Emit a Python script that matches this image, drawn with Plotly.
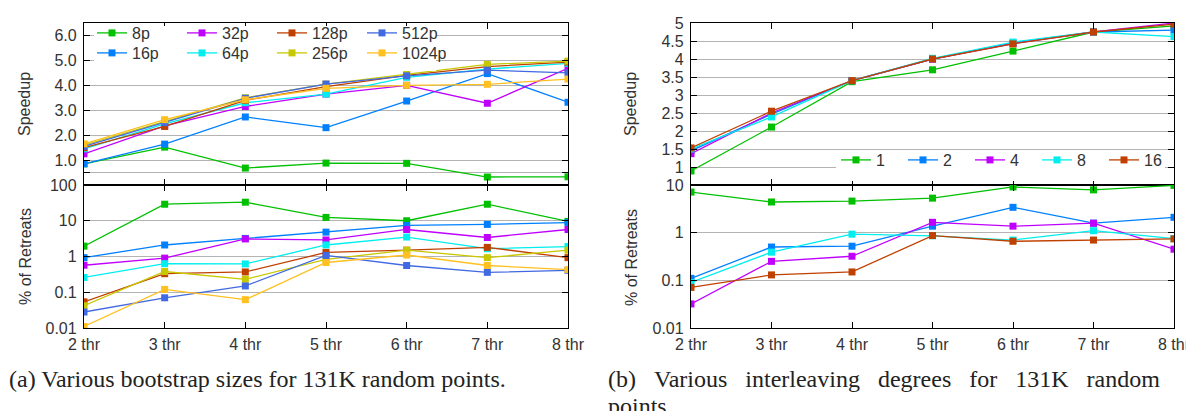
import plotly.graph_objects as go

categories = ['2 thr', '3 thr', '4 thr', '5 thr', '6 thr', '7 thr', '8 thr']

# (a) bootstrap sizes
a_names = ['8p', '16p', '32p', '64p', '128p', '256p', '512p', '1024p']
a_speed_8p = [0.85, 1.52, 0.68, 0.88, 0.87, 0.32, 0.33]
a_speed_16p = [0.85, 1.64, 2.73, 2.30, 3.37, 4.47, 3.32]
a_speed_32p = [1.25, 2.37, 3.15, 3.65, 4.00, 3.28, 4.68]
a_speed_64p = [1.45, 2.45, 3.30, 3.65, 4.32, 4.65, 4.88]
a_speed_128p = [1.50, 2.35, 3.40, 3.95, 4.40, 4.75, 4.93]
a_speed_256p = [1.60, 2.55, 3.50, 4.05, 4.45, 4.84, 4.97]
a_speed_512p = [1.55, 2.50, 3.48, 4.05, 4.38, 4.61, 4.50]
a_speed_1024p = [1.65, 2.62, 3.42, 3.88, 4.00, 4.04, 4.25]

a_ret_8p = [1.95, 29, 33, 12.4, 10, 29, 9.6]
a_ret_16p = [0.93, 2.1, 3.2, 4.8, 7.4, 7.9, 8.9]
a_ret_32p = [0.57, 0.9, 3.1, 2.9, 5.7, 3.4, 5.7]
a_ret_64p = [0.26, 0.63, 0.62, 2.1, 3.5, 1.65, 1.9]
a_ret_128p = [0.054, 0.33, 0.37, 1.3, 1.5, 1.8, 0.93]
a_ret_256p = [0.042, 0.38, 0.23, 0.83, 1.5, 0.93, 1.5]
a_ret_512p = [0.028, 0.07, 0.15, 1.07, 0.56, 0.36, 0.41]
a_ret_1024p = [0.011, 0.12, 0.062, 0.68, 1.1, 0.56, 0.43]

# (b) interleaving degrees
b_names = ['1', '2', '4', '8', '16']
b_speed_1 = [0.89, 2.11, 3.37, 3.70, 4.22, 4.75, 4.92]
b_speed_2 = [1.45, 2.47, 3.40, 4.00, 4.45, 4.75, 4.80]
b_speed_4 = [1.37, 2.50, 3.40, 4.00, 4.43, 4.75, 5.00]
b_speed_8 = [1.50, 2.39, 3.40, 4.02, 4.47, 4.75, 4.62]
b_speed_16 = [1.53, 2.55, 3.40, 4.00, 4.42, 4.75, 4.97]

b_ret_1 = [7.1, 4.4, 4.6, 5.3, 9.1, 7.9, 9.8]
b_ret_2 = [0.11, 0.5, 0.52, 1.37, 3.4, 1.58, 2.1]
b_ret_4 = [0.032, 0.25, 0.32, 1.65, 1.37, 1.58, 0.45]
b_ret_8 = [0.09, 0.39, 0.93, 0.86, 0.70, 1.1, 0.75]
b_ret_16 = [0.071, 0.13, 0.15, 0.87, 0.66, 0.70, 0.74]

a_speed = [a_speed_8p, a_speed_16p, a_speed_32p, a_speed_64p,
           a_speed_128p, a_speed_256p, a_speed_512p, a_speed_1024p]
a_ret = [a_ret_8p, a_ret_16p, a_ret_32p, a_ret_64p,
         a_ret_128p, a_ret_256p, a_ret_512p, a_ret_1024p]
b_speed = [b_speed_1, b_speed_2, b_speed_4, b_speed_8, b_speed_16]
b_ret = [b_ret_1, b_ret_2, b_ret_4, b_ret_8, b_ret_16]

a_colors = ['#00c000', '#0080ff', '#c000ff', '#00eeee',
            '#c04000', '#c8c800', '#4169e1', '#ffc020']
b_colors = ['#00c000', '#0080ff', '#c000ff', '#00eeee', '#c04000']

W, H = 1194, 411
def px(x):
    return x / W
def py(y):
    return 1 - y / H

fig = go.Figure()

for i, name in enumerate(a_names):
    leg = 'legend' if i % 2 == 0 else 'legend3'
    fig.add_trace(go.Scatter(x=categories, y=a_speed[i], name=name,
                             mode='lines+markers', xaxis='x', yaxis='y',
                             line=dict(color=a_colors[i], width=1.3),
                             marker=dict(symbol='square', size=7, color=a_colors[i]),
                             legend=leg, legendrank=i))
    fig.add_trace(go.Scatter(x=categories, y=a_ret[i], name=name,
                             mode='lines+markers', xaxis='x2', yaxis='y2',
                             line=dict(color=a_colors[i], width=1.3),
                             marker=dict(symbol='square', size=7, color=a_colors[i]),
                             showlegend=False))
for i, name in enumerate(b_names):
    fig.add_trace(go.Scatter(x=categories, y=b_speed[i], name=name,
                             mode='lines+markers', xaxis='x3', yaxis='y3',
                             line=dict(color=b_colors[i], width=1.3),
                             marker=dict(symbol='square', size=7, color=b_colors[i]),
                             legend='legend2'))
    fig.add_trace(go.Scatter(x=categories, y=b_ret[i], name=name,
                             mode='lines+markers', xaxis='x4', yaxis='y4',
                             line=dict(color=b_colors[i], width=1.3),
                             marker=dict(symbol='square', size=7, color=b_colors[i]),
                             showlegend=False))

tick_font = dict(family='Liberation Sans, Arial, sans-serif', size=16, color='#333333')
grid = '#b4b4b4'

common_x = dict(type='category', range=[0, 6], showline=True, linecolor='black',
                linewidth=1.3, mirror='ticks', ticks='inside', ticklen=6,
                tickcolor='black', showgrid=False, zeroline=False, tickfont=tick_font,
                ticklabelstandoff=2)
common_y = dict(showline=True, linecolor='black', linewidth=1.3, mirror='ticks',
                ticks='inside', ticklen=6, tickcolor='black', showgrid=True,
                gridcolor=grid, gridwidth=1, zeroline=False, tickfont=tick_font,
                ticklabelstandoff=3)

left_dom = [px(76), px(560)]
right_dom = [px(683), px(1166)]
top_dom = [py(177), py(15)]
bot_dom = [py(320), py(177)]

leg_font = dict(family='Liberation Sans, Arial, sans-serif', size=16, color='#333333')
clear = 'rgba(0,0,0,0)'

fig.update_layout(
    width=W, height=H, margin=dict(l=0, r=0, t=0, b=0, autoexpand=False),
    paper_bgcolor='white', plot_bgcolor='white',
    xaxis=dict(common_x, domain=left_dom, anchor='y', showticklabels=False),
    yaxis=dict(common_y, domain=top_dom, anchor='x', range=[0, 6.5],
               tickvals=[0.5, 1, 2, 3, 4, 5, 6],
               ticktext=['', '1.0', '2.0', '3.0', '4.0', '5.0', '6.0']),
    xaxis2=dict(common_x, domain=left_dom, anchor='y2'),
    yaxis2=dict(common_y, domain=bot_dom, anchor='x2', type='log', range=[-2, 2],
                tickvals=[0.01, 0.1, 1, 10, 100],
                ticktext=['0.01', '0.1', '1', '10', '100']),
    xaxis3=dict(common_x, domain=right_dom, anchor='y3', showticklabels=False),
    yaxis3=dict(common_y, domain=top_dom, anchor='x3', range=[0.5, 5],
                tickvals=[1, 1.5, 2, 2.5, 3, 3.5, 4, 4.5, 5],
                ticktext=['1', '1.5', '2', '2.5', '3', '3.5', '4', '4.5', '5']),
    xaxis4=dict(common_x, domain=right_dom, anchor='y4'),
    yaxis4=dict(common_y, domain=bot_dom, anchor='x4', type='log', range=[-2, 1],
                tickvals=[0.01, 0.1, 1, 10],
                ticktext=['0.01', '0.1', '1', '10']),
    legend=dict(orientation='h', x=px(84), y=py(8), xanchor='left', yanchor='top',
                bgcolor=clear, font=leg_font,
                entrywidth=45, entrywidthmode='pixels', itemwidth=30,
                traceorder='normal'),
    legend3=dict(orientation='h', x=px(84), y=py(28), xanchor='left', yanchor='top',
                 bgcolor=clear, font=leg_font,
                 entrywidth=45, entrywidthmode='pixels', itemwidth=30,
                 traceorder='normal'),
    legend2=dict(orientation='h', x=px(828), y=py(152), xanchor='left', yanchor='middle',
                 bgcolor=clear, font=leg_font,
                 entrywidth=22, entrywidthmode='pixels', itemwidth=30,
                 traceorder='normal'),
)

# opaque key boxes (as in the original, the key hides the grid lines behind it)
fig.update_layout(shapes=[
    dict(type='rect', xref='paper', yref='paper', x0=px(86), x1=px(428),
         y0=py(63), y1=py(18), fillcolor='white', line=dict(width=0), layer='above'),
    dict(type='rect', xref='paper', yref='paper', x0=px(828), x1=px(1157),
         y0=py(173), y1=py(145), fillcolor='white', line=dict(width=0), layer='above'),
])

title_font = dict(family='Liberation Sans, Arial, sans-serif', size=16, color='#333333')
cap_font = dict(family='Liberation Serif, Times New Roman, serif', size=24, color='#222222')
nb = '\u00a0'
gap = nb * 3
annotations = [
    dict(text='Speedup', x=px(17), y=py(96), textangle=-90, font=title_font),
    dict(text='% of Retreats', x=px(17), y=py(249), textangle=-90, font=title_font),
    dict(text='Speedup', x=px(623), y=py(96), textangle=-90, font=title_font),
    dict(text='% of Retreats', x=px(623), y=py(250), textangle=-90, font=title_font),
    dict(text='(a) Various bootstrap sizes for 131K random points.', x=px(-1), y=py(371),
         xanchor='left', font=cap_font),
    dict(text=('(b)' + gap + 'Various' + gap + 'interleaving' + gap + 'degrees' + gap +
               'for' + gap + '131K' + gap + 'random'), x=px(598), y=py(371),
         xanchor='left', font=cap_font),
    dict(text='points.', x=px(598), y=py(398), xanchor='left', font=cap_font),
]
for a in annotations:
    a.update(xref='paper', yref='paper', showarrow=False, yanchor=a.get('yanchor', 'middle'))
    a.setdefault('xanchor', 'center')
fig.update_layout(annotations=annotations)

fig.write_html('out.html')
